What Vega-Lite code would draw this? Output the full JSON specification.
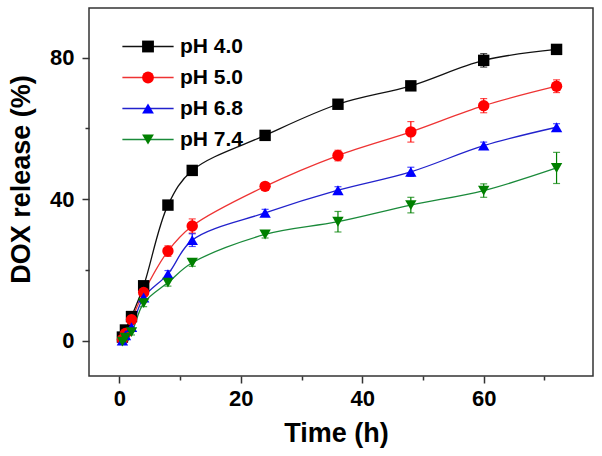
{
  "$schema": "https://vega.github.io/schema/vega-lite/v6.json",
  "width": 504,
  "height": 368,
  "autosize": {"type": "none"},
  "padding": {"left": 89, "top": 8, "right": 9, "bottom": 80},
  "background": "white",
  "config": {
    "view": {"stroke": "#333333", "strokeWidth": 1.5},
    "font": "Liberation Sans"
  },
  "data": {
    "values": [
      {"pH": "pH 4.0", "t": 0.5, "v": 1.0, "e": 0.8},
      {"pH": "pH 4.0", "t": 1, "v": 3.0, "e": 0.8},
      {"pH": "pH 4.0", "t": 2, "v": 6.8, "e": 0.8},
      {"pH": "pH 4.0", "t": 4, "v": 15.5, "e": 0.8},
      {"pH": "pH 4.0", "t": 8, "v": 38.3, "e": 0.8},
      {"pH": "pH 4.0", "t": 12, "v": 48.1, "e": 0.8},
      {"pH": "pH 4.0", "t": 24, "v": 58.0, "e": 0.8},
      {"pH": "pH 4.0", "t": 36, "v": 66.8, "e": 0.8},
      {"pH": "pH 4.0", "t": 48, "v": 72.0, "e": 0.8},
      {"pH": "pH 4.0", "t": 60, "v": 79.2, "e": 1.9},
      {"pH": "pH 4.0", "t": 72, "v": 82.3, "e": 0.8},
      {"pH": "pH 5.0", "t": 0.5, "v": 0.3, "e": 0.8},
      {"pH": "pH 5.0", "t": 1, "v": 2.0, "e": 0.8},
      {"pH": "pH 5.0", "t": 2, "v": 5.9, "e": 1.0},
      {"pH": "pH 5.0", "t": 4, "v": 13.6, "e": 1.0},
      {"pH": "pH 5.0", "t": 8, "v": 25.3, "e": 1.5},
      {"pH": "pH 5.0", "t": 12, "v": 32.4, "e": 2.0},
      {"pH": "pH 5.0", "t": 24, "v": 43.6, "e": 0.8},
      {"pH": "pH 5.0", "t": 36, "v": 52.3, "e": 1.5},
      {"pH": "pH 5.0", "t": 48, "v": 59.0, "e": 2.9},
      {"pH": "pH 5.0", "t": 60, "v": 66.4, "e": 2.0},
      {"pH": "pH 5.0", "t": 72, "v": 71.9, "e": 1.8},
      {"pH": "pH 6.8", "t": 0.5, "v": 0.0, "e": 0.8},
      {"pH": "pH 6.8", "t": 1, "v": 1.5, "e": 0.8},
      {"pH": "pH 6.8", "t": 2, "v": 3.8, "e": 0.8},
      {"pH": "pH 6.8", "t": 4, "v": 12.2, "e": 1.0},
      {"pH": "pH 6.8", "t": 8, "v": 18.8, "e": 1.0},
      {"pH": "pH 6.8", "t": 12, "v": 28.4, "e": 1.8},
      {"pH": "pH 6.8", "t": 24, "v": 36.1, "e": 1.0},
      {"pH": "pH 6.8", "t": 36, "v": 42.5, "e": 1.0},
      {"pH": "pH 6.8", "t": 48, "v": 47.7, "e": 1.3},
      {"pH": "pH 6.8", "t": 60, "v": 55.1, "e": 1.0},
      {"pH": "pH 6.8", "t": 72, "v": 60.3, "e": 1.0},
      {"pH": "pH 7.4", "t": 0.5, "v": -0.3, "e": 0.8},
      {"pH": "pH 7.4", "t": 1, "v": 0.8, "e": 0.8},
      {"pH": "pH 7.4", "t": 2, "v": 2.4, "e": 0.8},
      {"pH": "pH 7.4", "t": 4, "v": 10.6, "e": 1.0},
      {"pH": "pH 7.4", "t": 8, "v": 16.4, "e": 1.0},
      {"pH": "pH 7.4", "t": 12, "v": 22.0, "e": 1.0},
      {"pH": "pH 7.4", "t": 24, "v": 30.0, "e": 1.0},
      {"pH": "pH 7.4", "t": 36, "v": 33.6, "e": 2.9},
      {"pH": "pH 7.4", "t": 48, "v": 38.3, "e": 2.2},
      {"pH": "pH 7.4", "t": 60, "v": 42.4, "e": 1.9},
      {"pH": "pH 7.4", "t": 72, "v": 48.8, "e": 4.4}
    ]
  },
  "encoding": {
    "x": {
      "field": "t", "type": "quantitative",
      "scale": {"domain": [-5, 78], "nice": false, "zero": false},
      "axis": {
        "title": "Time (h)",
        "values": [0, 10, 20, 30, 40, 50, 60, 70],
        "labelExpr": "datum.value % 20 === 0 ? datum.label : ''",
        "grid": false, "domain": false,
        "tickColor": "#333333", "tickWidth": 1.5,
        "tickSize": {"condition": {"test": "datum.value % 20 === 0", "value": 7}, "value": 4},
        "labelFont": "Liberation Sans", "labelFontWeight": "bold", "labelFontSize": 22, "labelColor": "black",
        "labelPadding": 5,
        "titleFont": "Liberation Sans", "titleFontWeight": "bold", "titleFontSize": 27, "titleColor": "black",
        "titleBaseline": "alphabetic", "titleX": 247, "titleY": 65, "titleAnchor": "middle"
      }
    },
    "y": {
      "field": "v", "type": "quantitative",
      "scale": {"domain": [-10, 94], "nice": false, "zero": false},
      "axis": {
        "title": "DOX release (%)",
        "values": [0, 20, 40, 60, 80],
        "labelExpr": "datum.value % 40 === 0 ? datum.label : ''",
        "grid": false, "domain": false,
        "tickColor": "#333333", "tickWidth": 1.5,
        "tickSize": {"condition": {"test": "datum.value % 40 === 0", "value": 7}, "value": 4},
        "labelFont": "Liberation Sans", "labelFontWeight": "bold", "labelFontSize": 22, "labelColor": "black",
        "labelPadding": 8,
        "titleFont": "Liberation Sans", "titleFontWeight": "bold", "titleFontSize": 27, "titleColor": "black",
        "titleBaseline": "alphabetic", "titleX": -60, "titleY": 171, "titleAngle": 270, "titleAlign": "center"
      }
    }
  },
  "layer": [
    {
      "mark": {"type": "errorbar", "ticks": {"size": 7, "thickness": 1.2}, "thickness": 1.2},
      "encoding": {
        "yError": {"field": "e"},
        "color": {
          "field": "pH", "type": "nominal",
          "scale": {"range": ["#000000", "#ff0000", "#0000ff", "#008000"]},
          "legend": null
        }
      }
    },
    {
      "mark": {"type": "line", "interpolate": "catmull-rom", "strokeWidth": 1.3},
      "encoding": {
        "detail": {"field": "pH"},
        "stroke": {
          "field": "pH", "type": "nominal",
          "scale": {"domain": ["pH 4.0", "pH 5.0", "pH 6.8", "pH 7.4"], "range": ["#111111", "#ee3333", "#2222cc", "#1a8a3a"]},
          "legend": {
            "orient": "none", "legendX": 48.5, "legendY": 28,
            "title": null, "symbolType": "M-4.33,0H4.33", "symbolSize": 140, "symbolStrokeWidth": 1.5,
            "symbolFillColor": "transparent",
            "labelExpr": "''", "labelFontSize": 21, "rowPadding": 9, "padding": 0
          }
        }
      }
    },
    {
      "mark": {"type": "point", "filled": true, "size": 130, "opacity": 1},
      "encoding": {
        "fill": {
          "field": "pH", "type": "nominal",
          "scale": {"range": ["#000000", "#ff0000", "#0000ff", "#008000"]},
          "legend": {
            "orient": "none", "legendX": 48.5, "legendY": 28,
            "title": null, "symbolSize": 140, "symbolStrokeWidth": 0, "symbolOpacity": 1,
            "labelFont": "Liberation Sans", "labelFontWeight": "bold", "labelFontSize": 21, "labelColor": "black",
            "labelOffset": 21.5, "rowPadding": 9, "padding": 0
          }
        },
        "shape": {
          "field": "pH", "type": "nominal",
          "scale": {"range": ["square", "circle", "triangle-up", "triangle-down"]},
          "legend": {
            "orient": "none", "legendX": 48.5, "legendY": 28,
            "title": null, "symbolSize": 140, "symbolStrokeWidth": 0, "symbolOpacity": 1,
            "labelFont": "Liberation Sans", "labelFontWeight": "bold", "labelFontSize": 21, "labelColor": "black",
            "labelOffset": 21.5, "rowPadding": 9, "padding": 0
          }
        }
      }
    }
  ]
}
